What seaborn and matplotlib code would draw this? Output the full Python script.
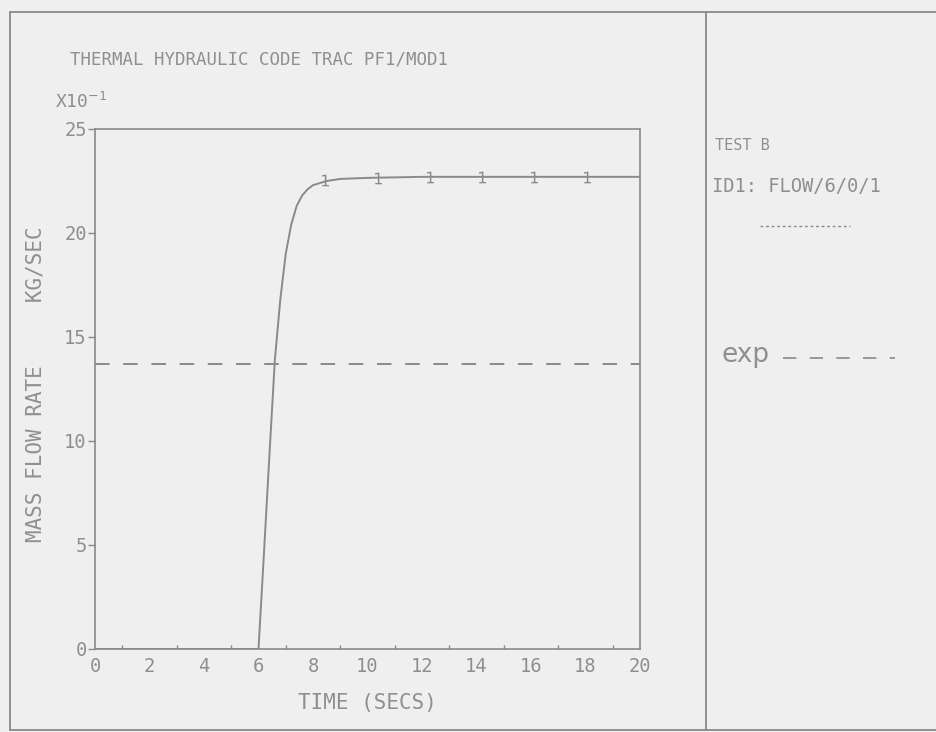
import numpy as np
import pandas as pd
import matplotlib
matplotlib.use("Agg")
import matplotlib.pyplot as plt
import seaborn as sns
from matplotlib.lines import Line2D
from matplotlib.ticker import MultipleLocator

# ====================
# DATA
# ====================
time_s = [0.0, 2.0, 4.0, 6.0, 6.2, 6.4, 6.6, 6.8, 7.0, 7.2, 7.4, 7.6, 7.8, 8.0,
          8.5, 9.0, 10.0, 12.0, 14.0, 16.0, 18.0, 20.0]
flow = [0.0, 0.0, 0.0, 0.0, 4.6, 9.3, 13.9, 16.8, 19.0, 20.4, 21.3, 21.8, 22.1, 22.3,
        22.5, 22.6, 22.65, 22.7, 22.7, 22.7, 22.7, 22.7]
marker_t = [8.45, 10.4, 12.3, 14.2, 16.1, 18.05]
marker_v = [22.55, 22.65, 22.7, 22.7, 22.7, 22.7]
exp_t = [0.0, 20.0]
exp_v = [13.7, 13.7]

x_ticks = [0, 2, 4, 6, 8, 10, 12, 14, 16, 18, 20]
y_ticks = [0, 5, 10, 15, 20, 25]

BG = "#efefef"
INK = "#8a8a8a"
TXT = "#8f8f8f"

sns.set_style("white", {"axes.facecolor": BG, "figure.facecolor": BG})
plt.rcParams["font.family"] = ["DejaVu Sans Mono", "DejaVu Sans"]

df = pd.DataFrame({"t": time_s, "w": flow})
df_exp = pd.DataFrame({"t": exp_t, "w": exp_v})

W, H = 937, 732
fig = plt.figure(figsize=(W / 100, H / 100), dpi=100)
ax = fig.add_axes([95 / W, 1 - 649 / H, 545 / W, 520 / H])

sns.lineplot(data=df, x="t", y="w", ax=ax, color=INK, linewidth=1.4)
sns.lineplot(data=df_exp, x="t", y="w", ax=ax, color=INK, linewidth=1.4,
             dashes=False, linestyle=(0, (7.5, 7)))
sns.scatterplot(x=marker_t, y=marker_v, ax=ax, marker="$1$", s=70,
                color=INK, linewidth=0)

ax.set_xlim(0, 20)
ax.set_ylim(0, 25)
ax.set_xticks(x_ticks)
ax.set_xticklabels([str(v) for v in x_ticks])
ax.set_yticks(y_ticks)
ax.set_yticklabels([str(v) for v in y_ticks])
ax.xaxis.set_minor_locator(MultipleLocator(1))
ax.tick_params(axis="x", which="major", direction="in", length=6, width=1,
               color=INK, labelcolor=TXT, labelsize=13.5, pad=6)
ax.tick_params(axis="x", which="minor", direction="in", length=3, width=1,
               color=INK, bottom=True)
ax.tick_params(axis="y", which="major", direction="out", length=5, width=1,
               color=INK, labelcolor=TXT, labelsize=13.5, pad=1, left=True)
for sp in ax.spines.values():
    sp.set_color(INK)
    sp.set_linewidth(1.2)

ax.set_xlabel("TIME (SECS)", fontsize=15, color=TXT, labelpad=12)
ax.set_ylabel("MASS FLOW RATE     KG/SEC", fontsize=15, color=TXT)
ax.yaxis.set_label_coords(-0.09, 0.51)

# ====================
# TEXT AROUND THE PLOT
# ====================
def fx(px):
    return px / W

def fy(py):
    return 1 - py / H

fig.text(fx(70), fy(60), "THERMAL HYDRAULIC CODE TRAC PF1/MOD1", fontsize=12.5,
         color=TXT, va="center")
fig.text(fx(55), fy(102), r"X10$^{-1}$", fontsize=13, color=TXT, va="center")
fig.text(fx(715), fy(145), "TEST B", fontsize=11, color=TXT, va="center")
fig.text(fx(712), fy(186), "ID1: FLOW/6/0/1", fontsize=13.5, color=TXT, va="center")
fig.text(fx(722), fy(355), "exp", fontsize=19, color=TXT, va="center",
         family=["DejaVu Sans"])

# legend samples
fig.add_artist(Line2D([fx(760), fx(850)], [fy(226), fy(226)], color=INK,
                      linewidth=1, linestyle=(0, (2, 2))))
fig.add_artist(Line2D([fx(783), fx(895)], [fy(358), fy(358)], color=INK,
                      linewidth=1.2, linestyle=(0, (8, 8))))

# ====================
# PAGE FRAME
# ====================
frame = [
    ([fx(10), fx(937)], [fy(12), fy(12)]),
    ([fx(10), fx(10)], [fy(12), fy(730)]),
    ([fx(10), fx(937)], [fy(730), fy(730)]),
    ([fx(706), fx(706)], [fy(12), fy(730)]),
]
for xs, ys in frame:
    fig.add_artist(Line2D(xs, ys, color=INK, linewidth=1.3))

fig.savefig("out.png", dpi=100, facecolor=BG)
plt.close(fig)
